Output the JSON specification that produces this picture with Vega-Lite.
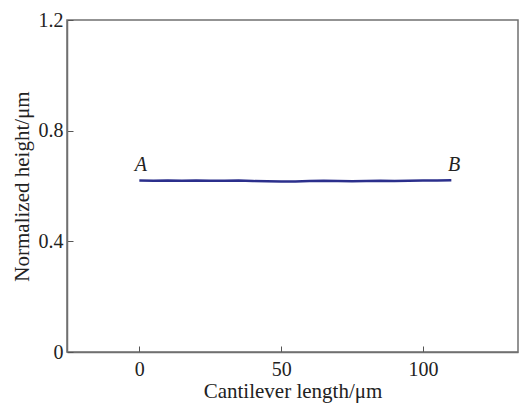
{
  "$schema": "https://vega.github.io/schema/vega-lite/v6.json",
  "width": 451,
  "height": 332,
  "autosize": "none",
  "padding": {"left": 67, "top": 20, "right": 2, "bottom": 51},
  "background": "white",
  "config": {
    "view": {"stroke": "#707070", "strokeWidth": 1.5},
    "font": "Liberation Serif",
    "axis": {
      "labelFont": "Liberation Serif",
      "titleFont": "Liberation Serif",
      "labelFontSize": 20,
      "titleFontSize": 21,
      "titleFontWeight": "normal",
      "labelColor": "#222",
      "titleColor": "#222",
      "domainColor": "#707070",
      "domainWidth": 1.5,
      "tickColor": "#555",
      "tickWidth": 1,
      "tickSize": -6,
      "grid": false
    }
  },
  "datasets": {
    "profile": [
      {"x": 0, "y": 0.620}, {"x": 5, "y": 0.619}, {"x": 10, "y": 0.620}, {"x": 15, "y": 0.619},
      {"x": 20, "y": 0.620}, {"x": 25, "y": 0.619}, {"x": 30, "y": 0.619}, {"x": 35, "y": 0.620},
      {"x": 40, "y": 0.618}, {"x": 45, "y": 0.617}, {"x": 50, "y": 0.616}, {"x": 55, "y": 0.616},
      {"x": 60, "y": 0.618}, {"x": 65, "y": 0.619}, {"x": 70, "y": 0.618}, {"x": 75, "y": 0.617},
      {"x": 80, "y": 0.618}, {"x": 85, "y": 0.619}, {"x": 90, "y": 0.618}, {"x": 95, "y": 0.619},
      {"x": 100, "y": 0.620}, {"x": 105, "y": 0.620}, {"x": 110, "y": 0.621}
    ],
    "labels": [
      {"x": 0.5, "y": 0.64, "label": "A"},
      {"x": 111, "y": 0.64, "label": "B"}
    ]
  },
  "layer": [
    {
      "data": {"name": "profile"},
      "mark": {"type": "line", "color": "#2b2f8c", "strokeWidth": 2.4, "clip": true},
      "encoding": {
        "x": {
          "field": "x", "type": "quantitative",
          "scale": {"domain": [-25.5, 133.5], "nice": false, "zero": false},
          "axis": {"values": [0, 50, 100], "title": "Cantilever length/μm", "labelPadding": 13, "titlePadding": 1}
        },
        "y": {
          "field": "y", "type": "quantitative",
          "scale": {"domain": [0, 1.2], "nice": false},
          "axis": {"values": [0, 0.4, 0.8, 1.2], "format": "~g", "title": "Normalized height/μm", "labelPadding": 10, "titlePadding": 6}
        }
      }
    },
    {
      "data": {"name": "labels"},
      "mark": {"type": "text", "fontStyle": "italic", "fontSize": 20, "font": "Liberation Serif", "color": "#222", "baseline": "bottom"},
      "encoding": {
        "x": {"field": "x", "type": "quantitative"},
        "y": {"field": "y", "type": "quantitative"},
        "text": {"field": "label"}
      }
    }
  ]
}
